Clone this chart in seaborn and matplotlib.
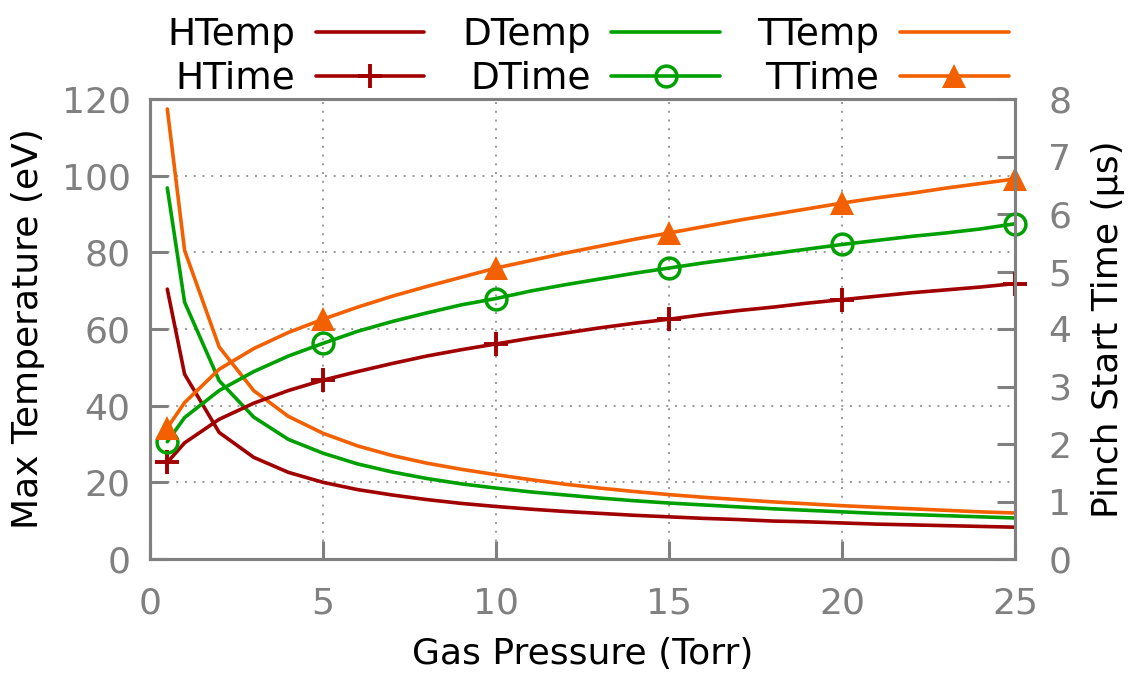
import matplotlib
matplotlib.use("Agg")
import matplotlib.pyplot as plt
import seaborn as sns
import pandas as pd

# ---- data ----
pressure = [0.5, 1, 2, 3, 4, 5, 6, 7, 8, 9, 10, 11, 12, 13, 14, 15, 16, 17, 18, 19, 20, 21, 22, 23, 24, 25]

h_temp = [70.4, 48.2, 33.0, 26.5, 22.6, 20.0, 18.1, 16.7, 15.5, 14.5, 13.7, 13.0, 12.4,
          11.9, 11.4, 11.0, 10.6, 10.3, 9.9, 9.7, 9.4, 9.1, 8.9, 8.7, 8.5, 8.3]
d_temp = [96.8, 67.0, 46.5, 37.0, 31.2, 27.6, 24.8, 22.7, 21.0, 19.6, 18.5, 17.5, 16.7,
          15.9, 15.2, 14.6, 14.1, 13.6, 13.1, 12.7, 12.3, 11.9, 11.6, 11.3, 11.0, 10.7]
t_temp = [117.4, 80.5, 55.3, 43.9, 37.2, 32.8, 29.5, 27.0, 25.0, 23.4, 22.0, 20.7, 19.5,
          18.5, 17.6, 16.8, 16.1, 15.5, 14.9, 14.4, 13.9, 13.5, 13.1, 12.7, 12.3, 12.0]

h_time = [1.68, 2.02, 2.43, 2.71, 2.93, 3.11, 3.26, 3.40, 3.53, 3.64, 3.74, 3.84, 3.93,
          4.02, 4.10, 4.17, 4.25, 4.32, 4.38, 4.45, 4.51, 4.57, 4.63, 4.68, 4.73, 4.79]
d_time = [2.04, 2.46, 2.93, 3.26, 3.53, 3.75, 3.96, 4.13, 4.28, 4.42, 4.53, 4.66, 4.77,
          4.87, 4.97, 5.06, 5.15, 5.23, 5.31, 5.39, 5.47, 5.54, 5.61, 5.67, 5.74, 5.83]
t_time = [2.28, 2.72, 3.30, 3.66, 3.94, 4.17, 4.38, 4.57, 4.74, 4.90, 5.06, 5.19, 5.32,
          5.44, 5.56, 5.67, 5.78, 5.89, 5.99, 6.09, 6.19, 6.28, 6.36, 6.45, 6.53, 6.61]

x_ticks = [0, 5, 10, 15, 20, 25]
temp_ticks = [0, 20, 40, 60, 80, 100, 120]
time_ticks = [0, 1, 2, 3, 4, 5, 6, 7, 8]

df = pd.DataFrame({"pressure": pressure,
                   "HTemp": h_temp, "DTemp": d_temp, "TTemp": t_temp,
                   "HTime": h_time, "DTime": d_time, "TTime": t_time})

# ---- style ----
sns.set_style("white")
plt.rcParams["font.family"] = ["DejaVu Sans"]
plt.rcParams["text.color"] = "black"
FS = 26
LFS = 27
GRAY = "#808080"
C_H, C_D, C_T = "#a00000", "#00a000", "#f26000"
LW = 2.6

fig = plt.figure(figsize=(11.37, 6.77), dpi=100)
ax = fig.add_axes([150 / 1137, 1 - 559 / 677, 865 / 1137, 460 / 677])
ax2 = ax.twinx()

# temperature curves (left axis)
for name, col in [("HTemp", C_H), ("DTemp", C_D), ("TTemp", C_T)]:
    sns.lineplot(data=df, x="pressure", y=name, ax=ax, color=col, linewidth=LW,
                 label=name, legend=False)

# pinch start time curves (right axis)
mk_idx = [0, 5, 10, 15, 20, 25]
sns.lineplot(data=df, x="pressure", y="HTime", ax=ax2, color=C_H, linewidth=LW, label="HTime",
             marker="+", markersize=17, markeredgewidth=2.8, markeredgecolor=C_H,
             markevery=mk_idx, clip_on=False, legend=False)
sns.lineplot(data=df, x="pressure", y="DTime", ax=ax2, color=C_D, linewidth=LW, label="DTime",
             marker="o", markersize=15, markeredgewidth=2.5, markerfacecolor="none",
             markeredgecolor=C_D, markevery=mk_idx, clip_on=False, legend=False)
sns.lineplot(data=df, x="pressure", y="TTime", ax=ax2, color=C_T, linewidth=LW, label="TTime",
             marker="^", markersize=17, markeredgewidth=0, markevery=mk_idx,
             clip_on=False, legend=False)

# axes limits / ticks
ax.set_xlim(0, 25)
ax.set_ylim(0, 120)
ax2.set_ylim(0, 8)
ax.set_xticks(x_ticks)
ax.set_yticks(temp_ticks)
ax2.set_yticks(time_ticks)

ax.grid(True, color="#999999", linestyle=(0, (1, 3.5)), linewidth=1.4)
ax2.grid(False)

for a in (ax, ax2):
    for s in a.spines.values():
        s.set_color(GRAY)
        s.set_linewidth(2.2)
        s.set_visible(True)

ax.tick_params(axis="x", direction="in", length=13, width=2.2, color=GRAY,
               labelcolor=GRAY, labelsize=FS, pad=20, bottom=True, top=False)
ax.tick_params(axis="y", direction="in", length=13, width=2.2, color=GRAY,
               labelcolor=GRAY, labelsize=FS, pad=14, left=True, right=False)
ax2.tick_params(axis="y", direction="in", length=13, width=2.2, color=GRAY,
                labelcolor=GRAY, labelsize=FS, pad=24, right=True, left=False)

ax.set_xlabel("Gas Pressure (Torr)", fontsize=FS, color="black", labelpad=12)
ax.set_ylabel("Max Temperature (eV)", fontsize=FS, color="black", labelpad=12)
ax2.set_ylabel("Pinch Start Time (μs)", fontsize=FS, color="black", labelpad=14)

# legend (gnuplot style: text then sample, 3 columns, 2 rows)
h1 = {l.get_label(): l for l in ax.lines}
h2 = {l.get_label(): l for l in ax2.lines}
hd = {**h1, **h2}
order = ["HTemp", "HTime", "DTemp", "DTime", "TTemp", "TTime"]
leg = fig.legend([hd[k] for k in order], order, loc="upper center",
                 bbox_to_anchor=(588 / 1137, 1.013), ncol=3, frameon=False, fontsize=LFS,
                 markerfirst=False, handlelength=2.9, handletextpad=0.55, columnspacing=1.0,
                 labelspacing=0.2, borderpad=0.2)
for t in leg.get_texts():
    t.set_color("black")

fig.savefig("out.png", dpi=100)
